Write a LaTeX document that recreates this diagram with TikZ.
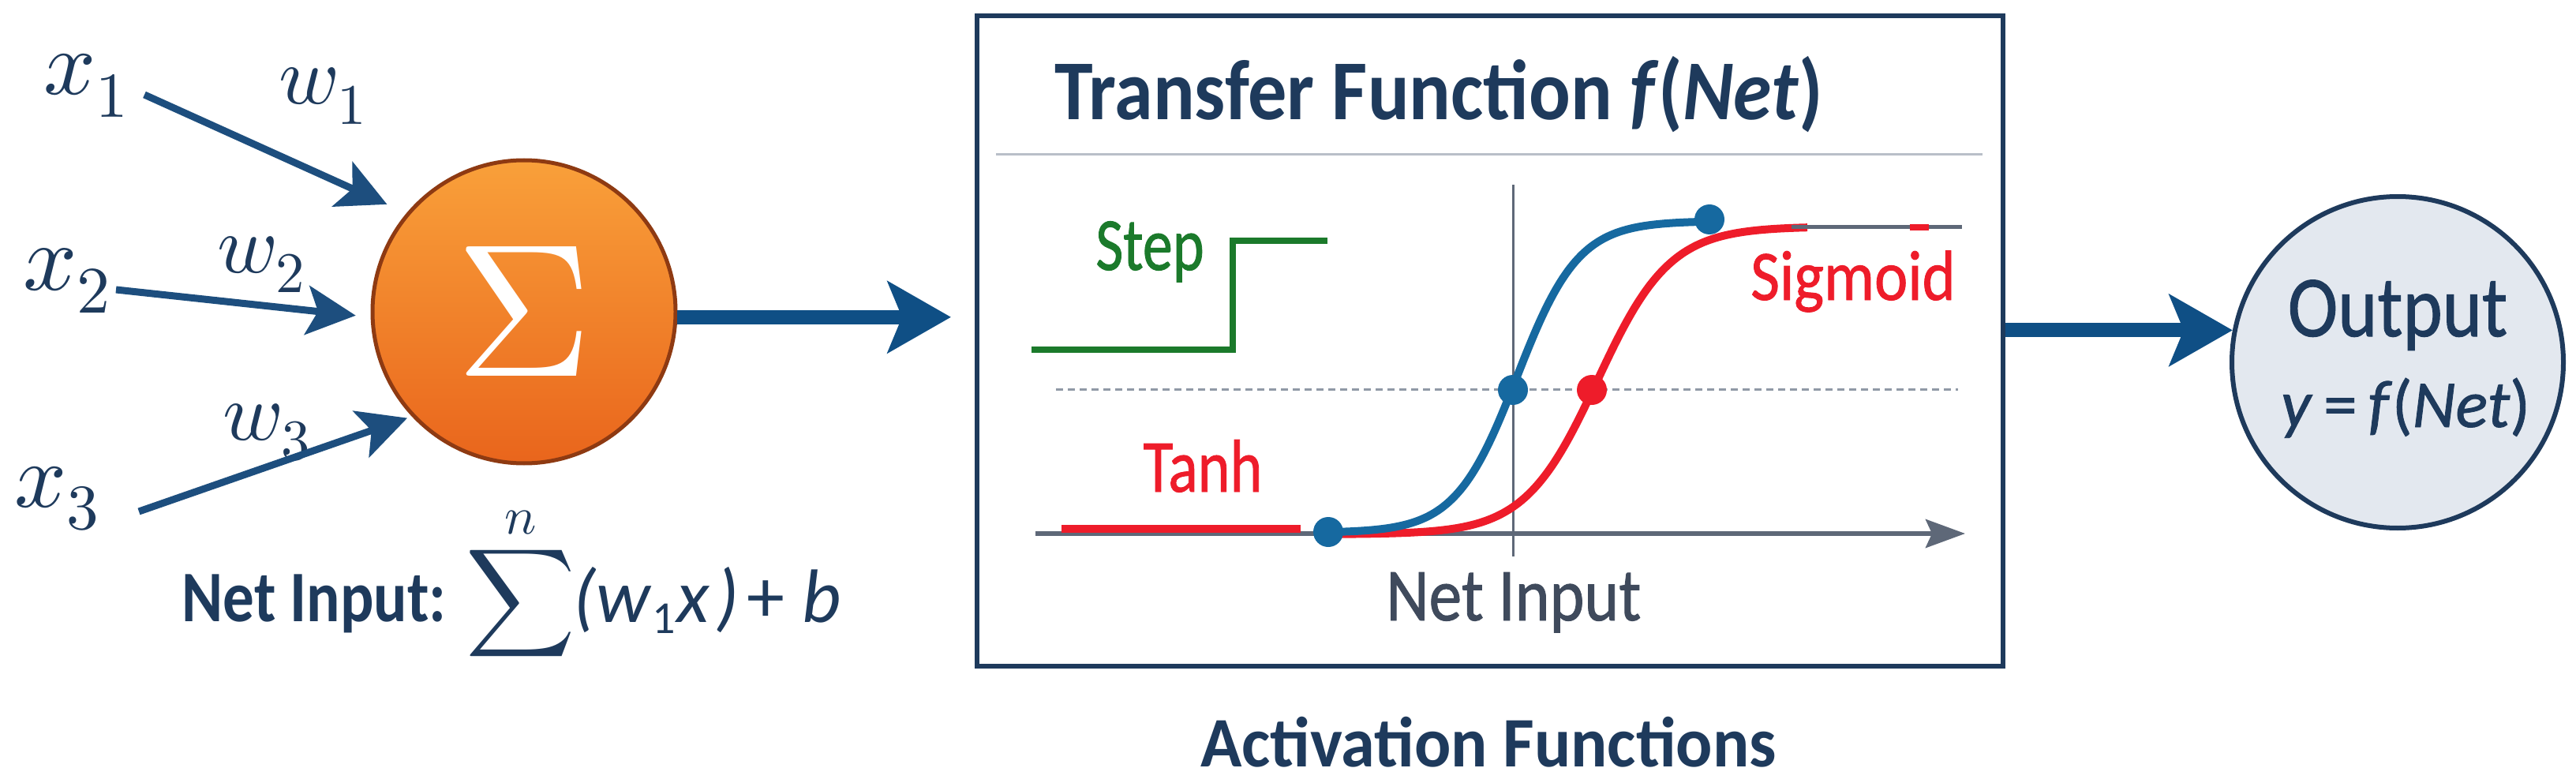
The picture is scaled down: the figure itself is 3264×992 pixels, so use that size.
\documentclass[tikz,border=0pt]{standalone}
\usepackage{graphicx}
\usepackage{fontspec}
\usepackage{unicode-math}
\setmainfont{Carlito}
\newfontfamily\semib{Carlito}[FakeBold=1.0]
\setmathfont{Latin Modern Math}
\usetikzlibrary{arrows.meta}
\definecolor{navy}{HTML}{1E3A5C}
\definecolor{arrowblue}{HTML}{1D4E7E}
\definecolor{mainblue}{HTML}{0F4F85}
\definecolor{orangetop}{HTML}{F9A03A}
\definecolor{orangebot}{HTML}{E9651C}
\definecolor{orangeborder}{HTML}{8E3A12}
\definecolor{curveblue}{HTML}{1669A0}
\definecolor{curvered}{HTML}{EE1C2A}
\definecolor{stepgreen}{HTML}{1B7A2B}
\definecolor{axisgrey}{HTML}{5E6878}
\definecolor{lightgrey}{HTML}{B9BFC8}
\definecolor{dashgrey}{HTML}{9099A6}
\definecolor{outfill}{HTML}{E3E8EF}
\definecolor{textgrey}{HTML}{3F4A5C}
\newcommand{\fsz}[1]{\fontsize{#1}{#1}\selectfont}
\begin{document}
\begin{tikzpicture}[x=1pt,y=-1pt,
  lbl/.style={inner sep=0pt, outer sep=0pt},
  inarrow/.style={draw=arrowblue, line width=9pt, -{Stealth[length=62pt,width=62pt,inset=14pt]}},
  bigarrow/.style={draw=mainblue, line width=18pt, -{Stealth[length=80pt,width=90pt,inset=18pt]}},
  dotblue/.style={circle, fill=curveblue, minimum size=38pt, inner sep=0pt},
  dotred/.style={circle, fill=curvered, minimum size=38pt, inner sep=0pt}]
\useasboundingbox (0,0) rectangle (3264,992);

% summation node
\node[circle, draw=orangeborder, line width=5pt, top color=orangetop, bottom color=orangebot,
      minimum size=384pt, inner sep=0pt] (sigma) at (664,395) {\color{white}\fsz{240}$\Sigma$};

% inputs and weights
\node[lbl, anchor=base west, text=navy] (x1) at (55,120) {\fsz{116}$x_1$};
\node[lbl, anchor=base west, text=navy] (x2) at (29,367) {\fsz{120}$x_2$};
\node[lbl, anchor=base west, text=navy] (x3) at (18,642) {\fsz{116}$x_3$};
\node[lbl, anchor=base west, text=navy] (w1) at (353,132) {\fsz{104}$w_1$};
\node[lbl, anchor=base west, text=navy] (w2) at (275,345) {\fsz{104}$w_2$};
\node[lbl, anchor=base west, text=navy] (w3) at (282,557) {\fsz{104}$w_3$};

\coordinate (s1) at (183,120);
\coordinate (s2) at (147,367);
\coordinate (s3) at (176,648);
\draw[inarrow, shorten >=27pt] (s1) -- (sigma.140);
\draw[inarrow, shorten >=19pt] (s2) -- (sigma.182);
\draw[inarrow, shorten >=6pt] (s3) -- (sigma.223);

% net input formula
\node[lbl, anchor=base, text=navy] (netlbl) at (398,787) {\fsz{92}\scalebox{0.86}[1]{\bfseries Net Input:}};
\node[lbl, anchor=base west, text=navy] (formula) at (590,788) {\fsz{96}$\displaystyle\sum^{n}$\kern-2pt{\itshape (w\kern2pt\raisebox{-14pt}{\fsz{58}\upshape 1}\kern2pt x\kern8pt)\kern10pt}{\upshape +}\kern22pt{\itshape b}};

% transfer function box
\node[draw=navy, line width=6pt, minimum width=1300pt, minimum height=824pt, inner sep=0pt] (box) at (1888,432) {};
\draw[bigarrow, shorten >=30pt] (sigma.358) -- (sigma.358 -| box.west);

\node[lbl, anchor=base, text=navy] (title) at (1823,152) {\fsz{108}\scalebox{0.91}[1]{\bfseries Transfer Function \textit{f}(\textit{Net})}};
\draw[lightgrey, line width=3pt] (1262,196) -- (2512,196);

% axes
\draw[axisgrey, line width=3pt] (1917,234) -- (1917,705);
\draw[axisgrey, line width=6pt, -{Stealth[length=50pt,width=36pt,inset=8pt]}] (1312,676) -- (2490,676);
\draw[dashgrey, line width=3pt, dash pattern=on 9pt off 6pt] (1338,493) -- (2481,493);

% step
\draw[stepgreen, line width=8pt] (1307,443) -- (1562,443) -- (1562,305) -- (1682,305);

% tanh segment and sigmoid (red)
\draw[curvered, line width=10pt] (1345,670) -- (1648,670);
\draw[curvered, line width=10pt] plot[domain=1683:2290, samples=120, smooth] (\x, {482-195*tanh((\x-2024)/92)});
\draw[axisgrey, line width=5pt] (2270,288) -- (2486,288);
\draw[curvered, line width=8pt] (2420,288) -- (2444,288);

% blue curve
\draw[curveblue, line width=10pt] plot[domain=1683:2166, samples=120, smooth] (\x, {477.5-197.5*tanh((\x-1922)/78)});

% dots
\node[dotblue] (b0) at (1683,674) {};
\node[dotblue] (b1) at (1917,494) {};
\node[dotblue] (b2) at (2166,278) {};
\node[dotred] (r1) at (2017,494) {};

% labels
\node[lbl, anchor=base, text=stepgreen] (steplbl) at (1457,342) {\fsz{95}\semib\scalebox{0.8}[1]{Step}};
\node[lbl, anchor=base, text=curvered] (tanhlbl) at (1524,623) {\fsz{95}\semib\scalebox{0.82}[1]{Tanh}};
\node[lbl, anchor=base, text=curvered] (siglbl) at (2348,380) {\fsz{90}\semib\scalebox{0.89}[1]{Sigmoid}};
\node[lbl, anchor=base, text=textgrey] (axislbl) at (1918,786) {\fsz{95}\semib\scalebox{0.88}[1]{Net Input}};
\node[lbl, anchor=base, text=navy] (actlbl) at (1886,971) {\fsz{90}\scalebox{0.96}[1]{\bfseries Activation Functions}};

% output
\node[circle, draw=navy, line width=6pt, fill=outfill, minimum size=420pt, inner sep=0pt] (out) at (3038,459) {};
\node[lbl, anchor=base, text=navy] (outlbl) at (3038,426) {\fsz{110}\semib\scalebox{0.87}[1]{Output}};
\node[lbl, anchor=base, text=navy] (outeq) at (3048,541) {\fsz{85}\semib\textit{y}\,=\,\textit{f}(\textit{Net})};
\draw[bigarrow] (out.169 -| box.east) -- (out.169);
\end{tikzpicture}
\end{document}
